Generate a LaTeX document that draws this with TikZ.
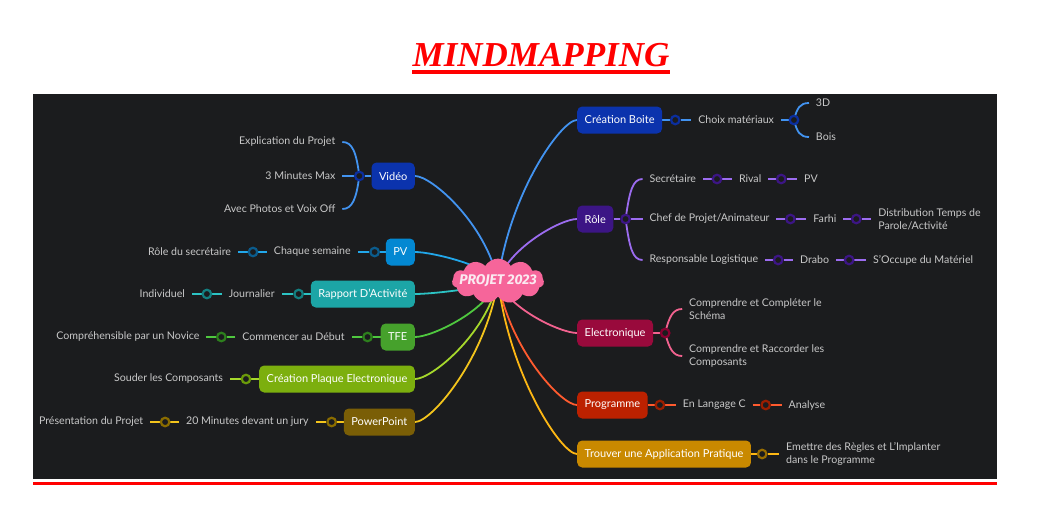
\documentclass[tikz,border=0pt]{standalone}
\usepackage{fontspec}
\setmainfont{Lato}
\newfontfamily\titlefont{Liberation Serif}
\newfontfamily\rootfont{Fira Sans}
\usetikzlibrary{shapes.symbols,calc}
\definecolor{panel}{HTML}{1B1C1E}
\definecolor{leafgray}{HTML}{C8C8C8}
\definecolor{rootPink}{HTML}{F6659A}
\definecolor{rootText}{HTML}{FBEAF1}
\definecolor{vidBox}{HTML}{0B33AD}\definecolor{vidLine}{HTML}{4293F0}\definecolor{vidDark}{HTML}{0B2E9E}
\definecolor{pvBox}{HTML}{0388D2}\definecolor{pvLine}{HTML}{22A7EA}\definecolor{pvDark}{HTML}{0B5C8D}
\definecolor{rapBox}{HTML}{1CA5A6}\definecolor{rapLine}{HTML}{2CC3C4}\definecolor{rapDark}{HTML}{137F80}
\definecolor{tfeBox}{HTML}{46A12C}\definecolor{tfeLine}{HTML}{4FC83F}\definecolor{tfeDark}{HTML}{2D7F1D}
\definecolor{plaBox}{HTML}{7CAF0E}\definecolor{plaLine}{HTML}{A6D82C}\definecolor{plaDark}{HTML}{6B9A0A}
\definecolor{pptBox}{HTML}{7A5E06}\definecolor{pptLine}{HTML}{F3C41C}\definecolor{pptDark}{HTML}{8A6C00}
\definecolor{boiBox}{HTML}{0B33AD}\definecolor{boiLine}{HTML}{4293F0}\definecolor{boiDark}{HTML}{0B2E9E}
\definecolor{rolBox}{HTML}{3C1585}\definecolor{rolLine}{HTML}{9C6CF0}\definecolor{rolDark}{HTML}{3C1585}
\definecolor{eleBox}{HTML}{990A3C}\definecolor{eleLine}{HTML}{F2628F}\definecolor{eleDark}{HTML}{880030}
\definecolor{proBox}{HTML}{BC2100}\definecolor{proLine}{HTML}{FF5B2F}\definecolor{proDark}{HTML}{9A1E00}
\definecolor{troBox}{HTML}{C98900}\definecolor{troLine}{HTML}{FDB714}\definecolor{troDark}{HTML}{9A6E00}
\pgfdeclarelayer{panellayer}
\pgfdeclarelayer{linelayer}
\pgfsetlayers{panellayer,linelayer,main}
\newcommand\mmtrunk[2]{%
  \draw[edge,#2] let \p1=(root.center), \p2=(#1) in (\p1) .. controls ({\x1+0.15*(\x2-\x1)},{\y1+0.55*(\y2-\y1)}) and ({\x1+0.8*(\x2-\x1)},\y2) .. (\p2);}
\begin{document}
\begin{tikzpicture}[x=1pt,y=-1pt,
  box/.style={rounded corners=5pt, minimum height=27pt, inner xsep=7.5pt, inner ysep=0pt, text=white, font=\fontsize{11}{13}\selectfont},
  leaf/.style={text=leafgray, inner xsep=0pt, outer xsep=7pt, inner ysep=1pt, font=\fontsize{10.6}{13}\selectfont, align=left},
  junc/.style={circle, draw, line width=2.2pt, fill=panel, minimum size=8.5pt, inner sep=0pt},
  edge/.style={line width=1.8pt},
]
\useasboundingbox (0,0) rectangle (1038,506);
\begin{pgfonlayer}{panellayer}
\fill[white] (0,0) rectangle (1038,506);
\fill[panel] (33,94) rectangle (997,479);
\fill[red] (33,481.5) rectangle (997,485);
\end{pgfonlayer}
% title
\node[font=\titlefont\bfseries\itshape\fontsize{35}{40}\selectfont, text=red, anchor=base, inner sep=0pt] (title) at (541,66) {MINDMAPPING};
\draw[red, line width=3.5pt] ($(title.base west)+(0,5.8)$) -- ($(title.base east)+(0,5.8)$);

% root
\node[cloud, cloud puffs=11, cloud puff arc=120, aspect=2.5, fill=rootPink, minimum width=92pt, minimum height=37pt, inner sep=0pt, text=rootText, font=\rootfont\bfseries\itshape\fontsize{14}{14}\selectfont] (root) at (498,281) {\makebox[58pt][c]{PROJET 2023}};

% ---------- left side ----------
\node[box, fill=vidBox, anchor=east] (vid) at (415,176) {Vidéo};
\node[junc, draw=vidDark] (vidj) at ($(vid.west)+(-12,0)$) {};
\node[leaf, anchor=east] (vid1) at ($(vidj)+(-17,-34)$) {Explication du Projet};
\node[leaf, anchor=east] (vid2) at ($(vidj)+(-17,0)$) {3 Minutes Max};
\node[leaf, anchor=east] (vid3) at ($(vidj)+(-17,33)$) {Avec Photos et Voix Off};

\node[box, fill=pvBox, anchor=east] (pv) at (415,252) {PV};
\node[junc, draw=pvDark] (pvj1) at ($(pv.west)+(-11,0)$) {};
\node[leaf, anchor=east] (pv1) at ($(pvj1)+(-17,0)$) {Chaque semaine};
\node[junc, draw=pvDark] (pvj2) at ($(pv1.west)+(-14,0)$) {};
\node[leaf, anchor=east] (pv2) at ($(pvj2)+(-15,0)$) {Rôle du secrétaire};

\node[box, fill=rapBox, anchor=east] (rap) at (415,294) {Rapport D'Activité};
\node[junc, draw=rapDark] (rapj1) at ($(rap.west)+(-12,0)$) {};
\node[leaf, anchor=east] (rap1) at ($(rapj1)+(-17,0)$) {Journalier};
\node[junc, draw=rapDark] (rapj2) at ($(rap1.west)+(-15,0)$) {};
\node[leaf, anchor=east] (rap2) at ($(rapj2)+(-15,0)$) {Individuel};

\node[box, fill=tfeBox, anchor=east] (tfe) at (415,337) {TFE};
\node[junc, draw=tfeDark] (tfej1) at ($(tfe.west)+(-13,0)$) {};
\node[leaf, anchor=east] (tfe1) at ($(tfej1)+(-16,0)$) {Commencer au Début};
\node[junc, draw=tfeDark] (tfej2) at ($(tfe1.west)+(-14,0)$) {};
\node[leaf, anchor=east] (tfe2) at ($(tfej2)+(-15,0)$) {Compréhensible par un Novice};

\node[box, fill=plaBox, anchor=east] (pla) at (415,379) {Création Plaque Electronique};
\node[junc, draw=plaDark] (plaj1) at ($(pla.west)+(-13,0)$) {};
\node[leaf, anchor=east] (pla1) at ($(plaj1)+(-16,0)$) {Souder les Composants};

\node[box, fill=pptBox, anchor=east] (ppt) at (415,422) {PowerPoint};
\node[junc, draw=pptDark] (pptj1) at ($(ppt.west)+(-12,0)$) {};
\node[leaf, anchor=east] (ppt1) at ($(pptj1)+(-16,0)$) {20 Minutes devant un jury};
\node[junc, draw=pptDark] (pptj2) at ($(ppt1.west)+(-14,0)$) {};
\node[leaf, anchor=east] (ppt2) at ($(pptj2)+(-15,0)$) {Présentation du Projet};

% ---------- right side ----------
\node[box, fill=boiBox, anchor=west] (boi) at (577,120) {Création Boite};
\node[junc, draw=boiDark] (boij1) at ($(boi.east)+(13,0)$) {};
\node[leaf, anchor=west] (boi1) at ($(boij1)+(16,0)$) {Choix matériaux};
\node[junc, draw=boiDark] (boij2) at ($(boi1.east)+(13,0)$) {};
\node[leaf, anchor=west] (boi2) at ($(boij2)+(15,-17)$) {3D};
\node[leaf, anchor=west] (boi3) at ($(boij2)+(15,17)$) {Bois};

\node[box, fill=rolBox, anchor=west] (rol) at (577,219) {Rôle};
\node[junc, draw=rolDark] (rolj) at ($(rol.east)+(12,0)$) {};
\node[leaf, anchor=west] (rol1) at ($(rolj)+(17,-40)$) {Secrétaire};
\node[leaf, anchor=west] (rol2) at ($(rolj)+(17,0)$) {Chef de Projet/Animateur};
\node[leaf, anchor=west] (rol3) at ($(rolj)+(17,41)$) {Responsable Logistique};
\node[junc, draw=rolDark] (rolj1) at ($(rol1.east)+(14,0)$) {};
\node[leaf, anchor=west] (rol1b) at ($(rolj1)+(15,0)$) {Rival};
\node[junc, draw=rolDark] (rolj1b) at ($(rol1b.east)+(13,0)$) {};
\node[leaf, anchor=west] (rol1c) at ($(rolj1b)+(16,0)$) {PV};
\node[junc, draw=rolDark] (rolj2) at ($(rol2.east)+(14,0)$) {};
\node[leaf, anchor=west] (rol2b) at ($(rolj2)+(16,0)$) {Farhi};
\node[junc, draw=rolDark] (rolj2b) at ($(rol2b.east)+(13,0)$) {};
\node[leaf, anchor=west] (rol2c) at ($(rolj2b)+(15,0)$) {Distribution Temps de\\Parole/Activité};
\node[junc, draw=rolDark] (rolj3) at ($(rol3.east)+(13,0)$) {};
\node[leaf, anchor=west] (rol3b) at ($(rolj3)+(15,0)$) {Drabo};
\node[junc, draw=rolDark] (rolj3b) at ($(rol3b.east)+(13,0)$) {};
\node[leaf, anchor=west] (rol3c) at ($(rolj3b)+(17,0)$) {S'Occupe du Matériel};

\node[box, fill=eleBox, anchor=west] (ele) at (577,333) {Electronique};
\node[junc, draw=eleDark] (elej) at ($(ele.east)+(12,0)$) {};
\node[leaf, anchor=west] (ele1) at ($(elej)+(17,-24)$) {Comprendre et Compléter le\\Schéma};
\node[leaf, anchor=west] (ele2) at ($(elej)+(17,23)$) {Comprendre et Raccorder les\\Composants};

\node[box, fill=proBox, anchor=west] (pro) at (577,405) {Programme};
\node[junc, draw=proDark] (proj1) at ($(pro.east)+(12,0)$) {};
\node[leaf, anchor=west] (pro1) at ($(proj1)+(16,0)$) {En Langage C};
\node[junc, draw=proDark] (proj2) at ($(pro1.east)+(13,0)$) {};
\node[leaf, anchor=west] (pro2) at ($(proj2)+(16,0)$) {Analyse};

\node[box, fill=troBox, anchor=west] (tro) at (577,454) {Trouver une Application Pratique};
\node[junc, draw=troDark] (troj) at ($(tro.east)+(11,0)$) {};
\node[leaf, anchor=west] (tro1) at ($(troj)+(17,0)$) {Emettre des Règles et L'Implanter\\dans le Programme};

% ---------- connectors ----------
\begin{pgfonlayer}{linelayer}
\mmtrunk{vid.east}{vidLine}
\mmtrunk{pv.east}{pvLine}
\mmtrunk{rap.east}{rapLine}
\mmtrunk{tfe.east}{tfeLine}
\mmtrunk{pla.east}{plaLine}
\mmtrunk{ppt.east}{pptLine}
\mmtrunk{boi.west}{boiLine}
\mmtrunk{rol.west}{rolLine}
\mmtrunk{ele.west}{eleLine}
\mmtrunk{pro.west}{proLine}
\mmtrunk{tro.west}{troLine}

\draw[edge,vidLine] (vid) -- (vidj) -- (vid2);
\draw[edge,vidLine] (vidj.center) .. controls +(-3,-24) and +(10,0) .. (vid1.east);
\draw[edge,vidLine] (vidj.center) .. controls +(-3,23) and +(10,0) .. (vid3.east);

\draw[edge,pvLine] (pv) -- (pvj1) -- (pv1);
\draw[edge,pvLine] (pv1) -- (pvj2) -- (pv2);
\draw[edge,rapLine] (rap) -- (rapj1) -- (rap1);
\draw[edge,rapLine] (rap1) -- (rapj2) -- (rap2);
\draw[edge,tfeLine] (tfe) -- (tfej1) -- (tfe1);
\draw[edge,tfeLine] (tfe1) -- (tfej2) -- (tfe2);
\draw[edge,plaLine] (pla) -- (plaj1) -- (pla1);
\draw[edge,pptLine] (ppt) -- (pptj1) -- (ppt1);
\draw[edge,pptLine] (ppt1) -- (pptj2) -- (ppt2);

\draw[edge,boiLine] (boi) -- (boij1) -- (boi1);
\draw[edge,boiLine] (boi1) -- (boij2);
\draw[edge,boiLine] (boij2.center) .. controls +(3,-12) and +(-9,0) .. (boi2.west);
\draw[edge,boiLine] (boij2.center) .. controls +(3,12) and +(-9,0) .. (boi3.west);

\draw[edge,rolLine] (rol) -- (rolj) -- (rol2);
\draw[edge,rolLine] (rolj.center) .. controls +(4,-28) and +(-10,0) .. (rol1.west);
\draw[edge,rolLine] (rolj.center) .. controls +(4,29) and +(-10,0) .. (rol3.west);
\draw[edge,rolLine] (rol1) -- (rolj1) -- (rol1b);
\draw[edge,rolLine] (rol1b) -- (rolj1b) -- (rol1c);
\draw[edge,rolLine] (rol2) -- (rolj2) -- (rol2b);
\draw[edge,rolLine] (rol2b) -- (rolj2b) -- (rol2c.west);
\draw[edge,rolLine] (rol3) -- (rolj3) -- (rol3b);
\draw[edge,rolLine] (rol3b) -- (rolj3b) -- (rol3c);

\draw[edge,eleLine] (ele) -- (elej);
\draw[edge,eleLine] (elej.center) .. controls +(4,-17) and +(-9,0) .. (ele1.west);
\draw[edge,eleLine] (elej.center) .. controls +(4,16) and +(-9,0) .. (ele2.west);

\draw[edge,proLine] (pro) -- (proj1) -- (pro1);
\draw[edge,proLine] (pro1) -- (proj2) -- (pro2);
\draw[edge,troLine] (tro) -- (troj) -- (tro1.west);
\end{pgfonlayer}
\end{tikzpicture}
\end{document}
